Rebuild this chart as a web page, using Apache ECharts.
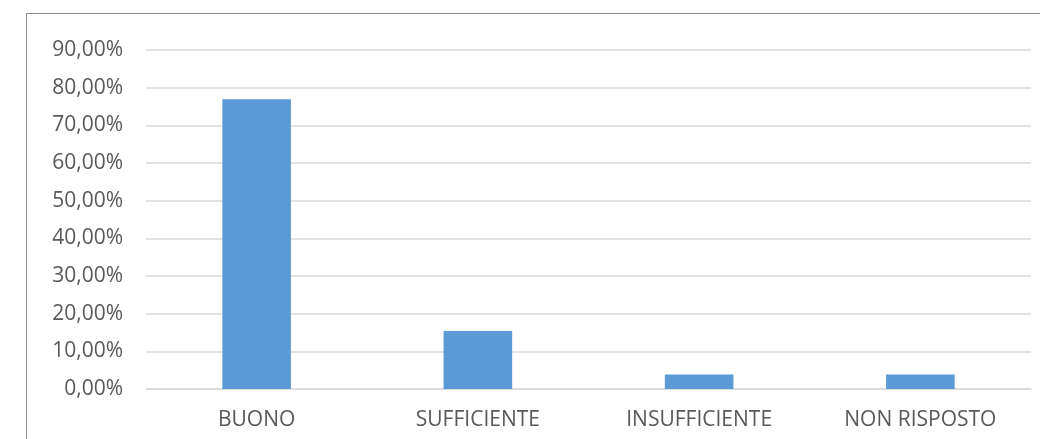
<!DOCTYPE html>
<html><head><meta charset="utf-8">
<script src="https://cdn.jsdelivr.net/npm/echarts@6/dist/echarts.min.js"></script>
<style>html,body{margin:0;padding:0;background:#fff}#c{width:1040px;height:439px}</style>
</head><body><div id="c"></div>
<script>
const categories = ['BUONO', 'SUFFICIENTE', 'INSUFFICIENTE', 'NON RISPOSTO'];
const values = [76.92, 15.38, 3.85, 3.85];
const yMin = 0, yMax = 90, yStep = 10;

const chart = echarts.init(document.getElementById('c'), null, {renderer: 'canvas'});
const font = 'Open Sans';
chart.setOption({
  animation: false,
  backgroundColor: '#fff',
  graphic: [{
    type: 'rect', shape: {x: 26.5, y: 13.5, width: 1100, height: 500},
    style: {fill: 'none', stroke: '#8c8c8c', lineWidth: 1}, silent: true
  }],
  grid: {left: 146, right: 9, top: 50, bottom: 50},
  xAxis: {
    type: 'category', data: categories,
    axisLine: {show: true, lineStyle: {color: '#d9d9d9', width: 1.5}},
    axisTick: {show: false},
    axisLabel: {color: '#595959', fontFamily: font, fontSize: 21, margin: 21}
  },
  yAxis: {
    type: 'value', min: yMin, max: yMax, interval: yStep,
    axisLine: {show: false}, axisTick: {show: false},
    splitLine: {lineStyle: {color: '#d9d9d9', width: 1.5}},
    axisLabel: {color: '#595959', fontFamily: font, fontSize: 21, margin: 23,
      formatter: v => v.toFixed(2).replace('.', ',') + '%'}
  },
  series: [{
    type: 'bar', data: values, barWidth: '31%',
    itemStyle: {color: '#5b9bd5'}
  }]
});
</script></body></html>
